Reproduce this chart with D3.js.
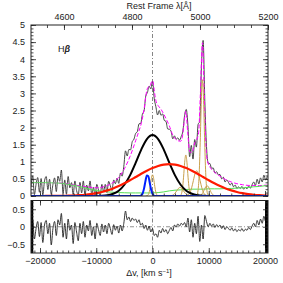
<!DOCTYPE html>
<html>
<head>
<meta charset="utf-8">
<script src="https://cdnjs.cloudflare.com/ajax/libs/d3/7.8.5/d3.min.js"></script>
<style>
  body { margin: 0; background: #fff; }
</style>
</head>
<body>
<div id="chart"></div>
<script>
// observed spectrum, sampled every 300 km/s from -21600
var spec_v = d3.range(-21600, 20401, 300);
var spec_flux = [
  0.29,0.59,0.04,0.34,0.54,0.11,0.51,0.03,0.44,0.57,
  0.19,0.49,0.05,0.34,0.53,0.13,0.58,0.43,0.76,0.07,
  0.47,0.05,0.57,0.24,0.39,0.04,0.44,0.16,0.03,0.40,
  0.09,0.44,0.02,0.32,0.15,0.44,0.03,0.25,0.02,0.34,
  0.17,0.02,0.34,0.12,0.34,0.10,0.43,0.30,0.16,0.47,
  0.36,0.52,0.37,0.67,0.58,0.87,1.32,1.17,1.36,1.35,
  1.59,1.66,1.83,1.88,2.11,2.12,2.39,2.49,2.92,3.03,
  3.21,3.13,3.36,2.86,2.61,2.37,2.50,2.36,2.40,2.21,
  2.18,1.96,1.95,1.89,1.67,1.76,1.66,1.70,1.63,1.74,
  1.90,2.35,2.53,2.05,1.15,1.48,1.08,1.65,1.43,2.09,
  2.18,3.80,4.55,2.77,1.45,0.96,0.95,0.81,0.82,0.67,
  0.71,0.62,0.63,0.50,0.55,0.41,0.47,0.40,0.32,0.38,
  0.27,0.32,0.22,0.27,0.22,0.28,0.20,0.25,0.21,0.29,
  0.23,0.33,0.41,0.31,0.49,0.35,0.53,0.41,0.61,0.47,
  0.57
];
var resid = [
  -0.10,0.20,-0.35,-0.05,0.15,-0.28,0.12,-0.45,0.05,0.18,
  -0.20,0.10,-0.52,-0.05,0.15,-0.25,0.20,0.05,0.38,-0.30,
  0.10,-0.35,0.22,-0.10,0.05,-0.48,0.12,-0.15,-0.40,0.10,
  -0.20,0.15,-0.30,0.05,-0.12,0.18,-0.25,0.00,-0.35,0.10,
  -0.08,-0.25,0.08,-0.15,0.05,-0.20,0.10,-0.05,-0.22,0.06,
  -0.10,0.02,-0.18,0.05,-0.12,0.10,0.45,0.20,0.28,0.15,
  0.25,0.18,0.22,0.12,0.20,0.05,0.10,-0.05,0.05,-0.10,
  0.02,-0.15,-0.05,-0.25,-0.20,-0.30,-0.10,-0.18,-0.05,-0.15,
  -0.08,-0.20,-0.10,-0.02,-0.12,0.05,0.00,0.08,0.02,0.10,
  0.05,0.12,0.00,0.25,-0.15,0.20,-0.30,0.10,-0.20,0.30,
  -0.42,0.05,-0.35,0.32,0.15,0.00,0.10,0.02,0.08,-0.02,
  0.06,0.00,0.05,-0.05,0.03,-0.08,0.00,-0.05,-0.10,-0.03,
  -0.12,-0.06,-0.14,-0.08,-0.12,-0.05,-0.13,-0.07,-0.10,-0.02,
  -0.08,0.02,0.10,0.00,0.18,0.05,0.22,0.10,0.30,0.15,
  0.25
];

// broad components, sampled every 1000 km/s from -22000
var comp_v = d3.range(-22000, 21001, 1000);
var broad_hb = [
  0,0,0,0,0,0,0,0,0,0,0,0,
  0.002,0.007,0.024,0.065,0.156,0.329,0.604,0.969,1.358,1.664,1.78,
  1.664,1.358,0.969,0.604,0.329,0.156,0.065,0.024,0.007,0.002,
  0,0,0,0,0,0,0,0,0,0,0
];
var very_broad_hb = [
  0.000,0.000,0.000,0.001,0.002,0.003,0.005,0.009,0.015,0.024,0.037,
  0.056,0.082,0.118,0.164,0.221,0.291,0.371,0.460,0.555,0.650,0.739,
  0.817,0.878,0.917,0.930,0.917,0.878,0.817,0.739,0.650,0.555,0.460,
  0.371,0.291,0.221,0.164,0.118,0.082,0.056,0.037,0.024,0.015,0.009
];
var fe2 = [
  0.39,0.39,0.39,0.39,0.385,0.38,0.37,0.34,0.31,0.28,0.24,
  0.19,0.16,0.14,0.12,0.11,0.10,0.095,0.09,0.09,0.09,0.09,
  0.09,0.10,0.12,0.15,0.17,0.18,0.19,0.20,0.20,0.20,0.21,
  0.21,0.21,0.22,0.22,0.23,0.24,0.25,0.27,0.28,0.30,0.31
];

// blueshifted component
var blue_v = [-22000,-2500,-2250,-2000,-1750,-1500,-1250,-1000,-750,-500,-250,0,250,500,750,21000];
var blue_flux = [0,0,0.004,0.020,0.080,0.223,0.438,0.603,0.582,0.394,0.187,0.062,0.015,0.002,0,0];

// narrow lines and [OIII] wings
var narrow_hb = [[-1200,0.001],[-1000,0.005],[-800,0.027],[-600,0.107],[-400,0.284],[-200,0.510],[0,0.620],[200,0.510],[400,0.284],[600,0.107],[800,0.027],[1000,0.005],[1200,0.001]];
var oiii_4959 = [[4720,0.001],[4920,0.009],[5120,0.053],[5320,0.206],[5520,0.550],[5720,0.988],[5920,1.200],[6120,0.988],[6320,0.550],[6520,0.206],[6720,0.053],[6920,0.009],[7120,0.001]];
var oiii_5007 = [[7680,0.003],[7880,0.026],[8080,0.150],[8280,0.585],[8480,1.557],[8680,2.798],[8880,3.400],[9080,2.798],[9280,1.557],[9480,0.585],[9680,0.150],[9880,0.026],[10080,0.003]];
var wing_4959 = [[3100,0.003],[3400,0.011],[3700,0.034],[4000,0.081],[4300,0.152],[4600,0.221],[4900,0.250],[5200,0.221],[5500,0.152],[5800,0.081],[6100,0.034],[6400,0.011],[6700,0.003]];
var wing_5007 = [[6060,0.008],[6360,0.033],[6660,0.100],[6960,0.241],[7260,0.449],[7560,0.653],[7860,0.740],[8160,0.653],[8460,0.449],[8760,0.241],[9060,0.100],[9360,0.033],[9660,0.008]];
var red_bump = [[8200,0.003],[8450,0.013],[8700,0.041],[8950,0.098],[9200,0.182],[9450,0.265],[9700,0.300],[9950,0.265],[10200,0.182],[10450,0.098],[10700,0.041],[10950,0.013],[11200,0.003]];

// total model
var model_v = [-22000,-20000,-18000,-16000,-14000,-12000,-10000,-9000,-8000,-7000,-6000,-5000,-4000,-3000,-2500,-2000,-1500,-1000,-750,-500,-250,0,250,500,750,1000,1500,2000,2500,3000,3500,4000,4500,5000,5300,5600,5920,6250,6600,7000,7500,7860,8200,8500,8880,9200,9500,9800,10200,11000,12000,13000,14000,15000,16000,17000,18000,19000,20000,21000];
var model_flux = [0.39,0.39,0.387,0.375,0.325,0.277,0.242,0.258,0.308,0.396,0.547,0.795,1.154,1.614,1.859,2.118,2.537,3.096,3.186,3.197,3.305,3.369,3.169,2.875,2.709,2.642,2.539,2.395,2.228,2.049,1.82,1.68,1.62,1.60,1.72,2.12,2.48,1.88,1.30,1.27,1.55,1.65,1.85,2.95,4.48,2.95,1.45,1.00,0.85,0.70,0.58,0.48,0.41,0.36,0.33,0.31,0.307,0.304,0.315,0.319];

// tick labels
var lam_ticks = [4600, 4800, 5000, 5200];
var v_ticks = [-20000, -10000, 0, 10000, 20000];
var flux_ticks = [0, 0.5, 1, 1.5, 2, 2.5, 3, 3.5, 4, 4.5, 5];
var resid_ticks = [-0.5, 0, 0.5];
// masked ends of the residual panel (km/s)
var edge_bands = [[-21900, -21200], [20000, 20530]];

var chart_width = 283;
var chart_height = 283;
var left = 31, right = 268;
var main_top = 25, main_bottom = 196;
var res_top = 200.5, res_bottom = 253;
var font = "'Liberation Sans', Arial, sans-serif";
var ink = '#222';

var svg = d3.select('#chart')
  .append('svg')
  .attr('width', chart_width)
  .attr('height', chart_height)
  .style('background', '#fff');

// scales
var x_scale = d3.scaleLinear().domain([-21600, 20530]).range([left, right]);
var lam_scale = d3.scaleLinear().domain([4503, 5200]).range([left, right]);
var y_scale = d3.scaleLinear().domain([0, 5]).range([main_bottom, main_top]);
var r_scale = d3.scaleLinear().domain([-0.75, 0.75]).range([res_bottom, res_top]);

// clip paths
var defs = svg.append('defs');
defs.append('clipPath').attr('id', 'clip_main').append('rect')
  .attr('x', left).attr('y', main_top).attr('width', right - left).attr('height', main_bottom - main_top);
defs.append('clipPath').attr('id', 'clip_res').append('rect')
  .attr('x', left).attr('y', res_top).attr('width', right - left).attr('height', res_bottom - res_top);

var main = svg.append('g').attr('clip-path', 'url(#clip_main)');
var res = svg.append('g').attr('clip-path', 'url(#clip_res)');

function draw_line(g, xs, ys, yscale, color, w, dash) {
  var pts = xs.map(function(v, i) { return [v, ys[i]]; });
  var line = d3.line()
    .x(function(d) { return x_scale(d[0]); })
    .y(function(d) { return yscale(d[1]); })
    .curve(d3.curveMonotoneX);
  g.append('path')
    .datum(pts)
    .attr('d', line)
    .attr('fill', 'none')
    .attr('stroke', color)
    .attr('stroke-width', w)
    .attr('stroke-dasharray', dash || null)
    .attr('stroke-linejoin', 'round');
}

function draw_pairs(g, pts, color, w) {
  draw_line(g, pts.map(function(d) { return d[0]; }), pts.map(function(d) { return d[1]; }), y_scale, color, w);
}

// zero velocity marker
main.append('line')
  .attr('x1', x_scale(0)).attr('x2', x_scale(0))
  .attr('y1', main_top).attr('y2', main_bottom)
  .attr('stroke', '#666').attr('stroke-width', 0.8)
  .attr('stroke-dasharray', '4,2,1,2');

// main panel
draw_line(main, spec_v, spec_flux, y_scale, '#333', 0.9);
draw_line(main, model_v, model_flux, y_scale, '#ff00ff', 1, '4,2');
draw_line(main, comp_v, fe2, y_scale, '#55e055', 1);
[narrow_hb, wing_4959, oiii_4959, wing_5007, oiii_5007, red_bump].forEach(function(c) {
  draw_pairs(main, c, '#c9a04c', 1);
});
draw_line(main, comp_v, broad_hb, y_scale, '#000', 2);
draw_line(main, comp_v, very_broad_hb, y_scale, '#ff1a00', 2.2);
draw_line(main, blue_v, blue_flux, y_scale, '#0020ff', 2);

// residual panel
res.append('line')
  .attr('x1', left).attr('x2', right)
  .attr('y1', r_scale(0)).attr('y2', r_scale(0))
  .attr('stroke', '#777').attr('stroke-width', 0.8)
  .attr('stroke-dasharray', '4,2,1,2');
res.append('line')
  .attr('x1', x_scale(0)).attr('x2', x_scale(0))
  .attr('y1', res_top).attr('y2', res_bottom)
  .attr('stroke', '#666').attr('stroke-width', 0.8)
  .attr('stroke-dasharray', '4,2,1,2');
draw_line(res, spec_v, resid, r_scale, '#222', 0.9);
res.selectAll('rect.band')
  .data(edge_bands)
  .enter()
  .append('rect')
  .attr('class', 'band')
  .attr('x', function(d) { return x_scale(d[0]); })
  .attr('width', function(d) { return x_scale(d[1]) - x_scale(d[0]); })
  .attr('y', res_top)
  .attr('height', res_bottom - res_top)
  .attr('fill', '#000');

// axes
function add_axis(axis_fn, scale, values, size, pad, fmt, transform) {
  var g = svg.append('g')
    .attr('transform', transform)
    .call(axis_fn(scale).tickValues(values).tickSize(size).tickPadding(pad).tickFormat(fmt));
  g.select('.domain').remove();
  g.selectAll('line').attr('stroke', ink).attr('stroke-width', 0.8);
  g.selectAll('text').attr('font-family', font).attr('font-size', 9).attr('fill', ink);
  return g;
}
var no_label = function() { return ''; };
var fmt = d3.format('~g');

// main panel: flux
add_axis(d3.axisLeft, y_scale, flux_ticks, -5, 6, fmt, 'translate(' + left + ',0)');
add_axis(d3.axisLeft, y_scale, d3.range(0, 5.01, 0.1), -2.5, 0, no_label, 'translate(' + left + ',0)');
add_axis(d3.axisRight, y_scale, flux_ticks, -5, 0, no_label, 'translate(' + right + ',0)');
add_axis(d3.axisRight, y_scale, d3.range(0, 5.01, 0.1), -2.5, 0, no_label, 'translate(' + right + ',0)');
// main panel: rest wavelength on top
add_axis(d3.axisTop, lam_scale, lam_ticks, -5, 5.5, fmt, 'translate(0,' + main_top + ')');
add_axis(d3.axisTop, lam_scale, d3.range(4550, 5201, 50), -3, 0, no_label, 'translate(0,' + main_top + ')');
// main panel: velocity ticks on bottom
add_axis(d3.axisBottom, x_scale, v_ticks, -5, 0, no_label, 'translate(0,' + main_bottom + ')');
add_axis(d3.axisBottom, x_scale, d3.range(-20000, 20001, 2000), -2.5, 0, no_label, 'translate(0,' + main_bottom + ')');

// residual panel
add_axis(d3.axisLeft, r_scale, resid_ticks, -5, 6, fmt, 'translate(' + left + ',0)');
add_axis(d3.axisLeft, r_scale, d3.range(-0.7, 0.71, 0.1), -2.5, 0, no_label, 'translate(' + left + ',0)');
add_axis(d3.axisRight, r_scale, resid_ticks, -5, 0, no_label, 'translate(' + right + ',0)');
add_axis(d3.axisRight, r_scale, d3.range(-0.7, 0.71, 0.1), -2.5, 0, no_label, 'translate(' + right + ',0)');
add_axis(d3.axisTop, x_scale, v_ticks, -5, 0, no_label, 'translate(0,' + res_top + ')');
add_axis(d3.axisTop, x_scale, d3.range(-20000, 20001, 2000), -2.5, 0, no_label, 'translate(0,' + res_top + ')');
add_axis(d3.axisBottom, x_scale, v_ticks, -5, 4.6, fmt, 'translate(0,' + res_bottom + ')');
add_axis(d3.axisBottom, x_scale, d3.range(-21000, 20001, 1000), -2.5, 0, no_label, 'translate(0,' + res_bottom + ')');

// frames
[[main_top, main_bottom], [res_top, res_bottom]].forEach(function(p) {
  svg.append('rect')
    .attr('x', left).attr('y', p[0])
    .attr('width', right - left).attr('height', p[1] - p[0])
    .attr('fill', 'none').attr('stroke', ink).attr('stroke-width', 1);
});

// titles
svg.append('text')
  .attr('x', 159).attr('y', 8.5)
  .attr('text-anchor', 'middle')
  .attr('font-family', font).attr('font-size', 9).attr('fill', ink)
  .text('Rest Frame \u03bb[\u00c5]');

var xlab = svg.append('text')
  .attr('x', 149).attr('y', 276)
  .attr('text-anchor', 'middle')
  .attr('font-family', font).attr('font-size', 9).attr('fill', ink);
xlab.append('tspan').text('\u0394v, [km s');
xlab.append('tspan').attr('font-size', 6).attr('dy', -3.5).text('\u22121');
xlab.append('tspan').attr('dy', 3.5).text(']');

var hb = svg.append('text')
  .attr('x', 58).attr('y', 52)
  .attr('font-family', font).attr('font-size', 9).attr('fill', ink);
hb.append('tspan').text('H');
hb.append('tspan').attr('font-style', 'italic').attr('font-weight', 'bold').text('\u03b2');
</script>
</body>
</html>
